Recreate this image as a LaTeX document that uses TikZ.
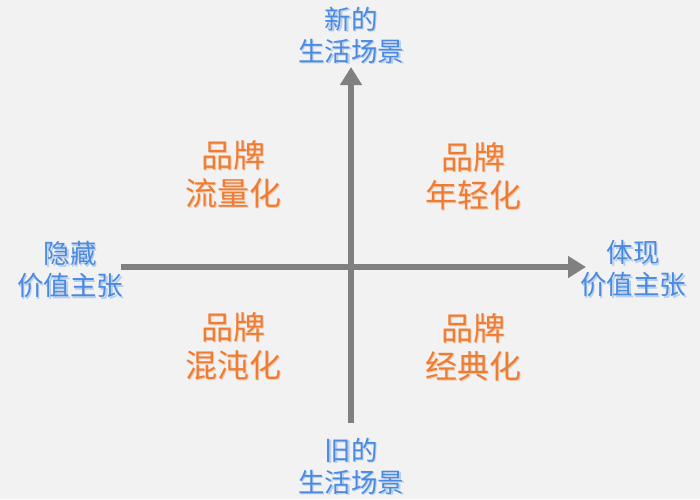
\documentclass[tikz,border=0pt]{standalone}
\usepackage{fontspec}
\newfontfamily\cjk{Noto Sans CJK SC}
\usetikzlibrary{arrows.meta}
\definecolor{bg}{HTML}{F2F2F2}
\definecolor{axisgray}{HTML}{808080}
\definecolor{lblue}{HTML}{4A8AE0}
\definecolor{lorange}{HTML}{EE7D33}
\tikzset{
  axisline/.style={draw=axisgray, line width=6pt, -{Triangle[width=21pt,length=18pt]}},
  axislabel/.style={text=lblue, align=center, inner sep=0pt, font=\cjk\fontsize{26.5}{32}\selectfont},
  quadlabel/.style={text=lorange, align=center, inner sep=0pt, font=\cjk\fontsize{32}{38}\selectfont},
  shadowA/.style={text=lblue!35!bg},
  shadowO/.style={text=lorange!35!bg},
}
\begin{document}
\begin{tikzpicture}[x=1pt,y=-1pt]
\fill[bg] (0,0) rectangle (700,499);
\useasboundingbox (0,0) rectangle (700,499);
\coordinate (L) at (121,267);
\coordinate (R) at (586,267);
\coordinate (B) at (351,423);
\coordinate (T) at (351,67);
\draw[axisline] (L) -- (R);
\draw[axisline] (B) -- (T);
% soft shadows of the texts
\node[axislabel,shadowA] at (352.5,36.5) {新的\\生活场景};
\node[axislabel,shadowA] at (352.5,467.5) {旧的\\生活场景};
\node[axislabel,shadowA] at (71.5,271.5) {隐藏\\价值主张};
\node[axislabel,shadowA] at (634.5,270.5) {体现\\价值主张};
\node[quadlabel,shadowO] at (234.5,175.5) {品牌\\流量化};
\node[quadlabel,shadowO] at (474.5,177.5) {品牌\\年轻化};
\node[quadlabel,shadowO] at (234.5,347.5) {品牌\\混沌化};
\node[quadlabel,shadowO] at (474.5,348.5) {品牌\\经典化};
% texts
\node[axislabel] (top) at (351,35) {新的\\生活场景};
\node[axislabel] (bottom) at (351,466) {旧的\\生活场景};
\node[axislabel] (left) at (70,270) {隐藏\\价值主张};
\node[axislabel] (right) at (633,269) {体现\\价值主张};
\node[quadlabel] (q1) at (233,174) {品牌\\流量化};
\node[quadlabel] (q2) at (473,176) {品牌\\年轻化};
\node[quadlabel] (q3) at (233,346) {品牌\\混沌化};
\node[quadlabel] (q4) at (473,347) {品牌\\经典化};
\end{tikzpicture}
\end{document}
